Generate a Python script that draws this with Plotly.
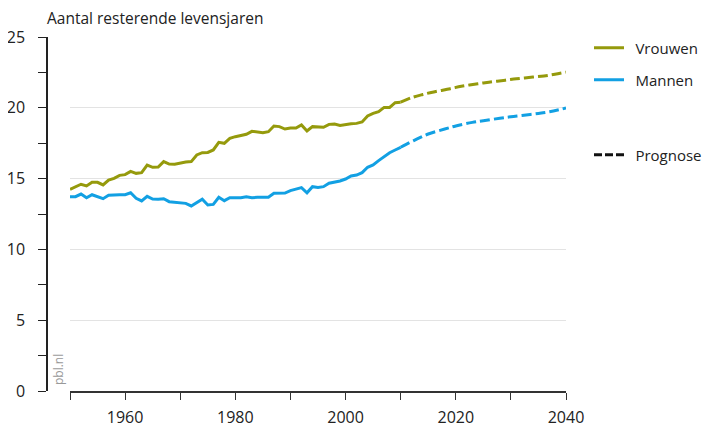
import plotly.graph_objects as go

FONT = "Open Sans"
OLIVE = "#959a0c"
BLUE = "#12a0e3"

# Historical series (1950-2010)
years_hist = list(range(1950, 2011))
vrouwen_hist = [14.24, 14.40, 14.60, 14.48, 14.74, 14.74, 14.55, 14.90, 15.02, 15.23,
                15.28, 15.51, 15.37, 15.42, 15.96, 15.80, 15.82, 16.20, 16.03, 16.02,
                16.12, 16.17, 16.20, 16.67, 16.83, 16.85, 17.02, 17.56, 17.49, 17.84,
                17.96, 18.03, 18.13, 18.34, 18.27, 18.24, 18.31, 18.71, 18.67, 18.50,
                18.58, 18.57, 18.79, 18.36, 18.67, 18.67, 18.62, 18.83, 18.86, 18.76,
                18.83, 18.88, 18.90, 19.00, 19.42, 19.61, 19.73, 20.03, 20.03, 20.36,
                20.40]
mannen_hist = [13.72, 13.72, 13.91, 13.65, 13.86, 13.72, 13.58, 13.82, 13.86, 13.86,
               13.86, 14.00, 13.61, 13.42, 13.75, 13.56, 13.54, 13.58, 13.37, 13.32,
               13.30, 13.25, 13.07, 13.30, 13.54, 13.14, 13.18, 13.68, 13.44, 13.65,
               13.63, 13.65, 13.72, 13.65, 13.68, 13.68, 13.68, 13.96, 13.96, 13.98,
               14.15, 14.24, 14.36, 14.00, 14.43, 14.38, 14.43, 14.67, 14.74, 14.83,
               14.97, 15.18, 15.25, 15.42, 15.80, 15.96, 16.27, 16.55, 16.83, 17.02,
               17.21]

# Prognosis (2010-2040)
years_prog_v = [2010, 2012, 2014, 2016, 2019, 2021, 2024, 2026, 2029, 2031, 2034, 2036, 2038, 2040]
vrouwen_prog = [20.40, 20.72, 20.94, 21.12, 21.35, 21.52, 21.70, 21.81, 21.95, 22.05, 22.17, 22.25, 22.37, 22.52]
years_prog_m = [2010, 2011, 2013, 2015, 2018, 2020, 2023, 2025, 2028, 2030, 2032, 2035, 2037, 2040]
mannen_prog = [17.21, 17.42, 17.80, 18.15, 18.50, 18.72, 18.97, 19.09, 19.26, 19.37, 19.46, 19.60, 19.72, 19.98]

title_text = "Aantal resterende levensjaren"
legend_names = ["Vrouwen", "Mannen", "Prognose"]
PAD = "\u00a0\u2009"

fig = go.Figure()
fig.add_trace(go.Scatter(x=years_hist, y=vrouwen_hist, mode="lines", name=PAD + legend_names[0],
                         line=dict(color=OLIVE, width=3), legend="legend"))
fig.add_trace(go.Scatter(x=years_prog_v, y=vrouwen_prog, mode="lines", showlegend=False,
                         line=dict(color=OLIVE, width=3, dash="10px,4px", shape="spline")))
fig.add_trace(go.Scatter(x=years_hist, y=mannen_hist, mode="lines", name=PAD + legend_names[1],
                         line=dict(color=BLUE, width=3), legend="legend2"))
fig.add_trace(go.Scatter(x=years_prog_m, y=mannen_prog, mode="lines", showlegend=False,
                         line=dict(color=BLUE, width=3, dash="10px,4px", shape="spline")))
fig.add_trace(go.Scatter(x=[None], y=[None], mode="lines", name=PAD + legend_names[2],
                         line=dict(color="#111111", width=3, dash="8px,3px"), legend="legend3"))

# The page body has an 8px margin, so the figure is drawn at (8, 8) in the window.
OFF = 8
W, H = 705, 421
AX_X = 47 - OFF        # y-axis line
PL, PR = 70 - OFF, 566 - OFF   # plot area x
PT, PB = 37 - OFF, 391 - OFF   # plot area y
L, R, T, B = AX_X, W - PR, PT, H - PB
plot_w = W - L - R
plot_h = H - T - B
x0 = (PL - L) / plot_w


def ly(py):
    return (H - B - (py - OFF)) / plot_h


def lx(px):
    return ((px - OFF) - L) / plot_w


legend_common = dict(font=dict(family=FONT, size=15, color="#222"), bgcolor="rgba(0,0,0,0)",
                     xanchor="left", yanchor="middle", xref="paper", yref="paper",
                     itemwidth=30)

fig.update_layout(
    width=W, height=H,
    margin=dict(l=L, r=R, t=T, b=B, pad=0, autoexpand=False),
    paper_bgcolor="white", plot_bgcolor="white",
    font=dict(family=FONT, size=16, color="#222"),
    title=dict(text=title_text, x=(47 - OFF) / W, xanchor="left", xref="container",
               y=1 - (18.5 - OFF) / H, yanchor="middle", yref="container",
               font=dict(family=FONT, size=15.5, color="#222")),
    xaxis=dict(domain=[x0, 1], range=[1950, 2040], showgrid=False, zeroline=False,
               automargin=False,
               showline=True, linecolor="#333", linewidth=1.5,
               tick0=1960, dtick=20, ticks="outside", ticklen=7, tickcolor="#333",
               ticklabelstandoff=4,
               tickfont=dict(family=FONT, size=16, color="#222"),
               minor=dict(tick0=1950, dtick=10, ticks="outside", ticklen=7, tickcolor="#333", showgrid=False)),
    yaxis=dict(range=[0, 25], anchor="free", position=0, showgrid=True, gridcolor="#e3e3e3",
               automargin=False,
               gridwidth=1, zeroline=False, showline=True, linecolor="#222", linewidth=1.5,
               tick0=0, dtick=5, ticks="outside", ticklen=8, tickcolor="#222",
               ticklabelstandoff=10,
               tickfont=dict(family=FONT, size=16, color="#222"),
               minor=dict(dtick=2.5, ticks="outside", ticklen=8, tickcolor="#222", showgrid=False)),
    legend=dict(x=lx(589), y=ly(48), **legend_common),
    legend2=dict(x=lx(589), y=ly(80), **legend_common),
    legend3=dict(x=lx(589), y=ly(155), **legend_common),
    annotations=[dict(text="pbl.nl", textangle=-90, x=lx(58), y=ly(370),
                      xref="paper", yref="paper", xanchor="center", yanchor="middle",
                      showarrow=False, font=dict(family=FONT, size=12, color="#999"))],
)

fig.write_html("out.html")
